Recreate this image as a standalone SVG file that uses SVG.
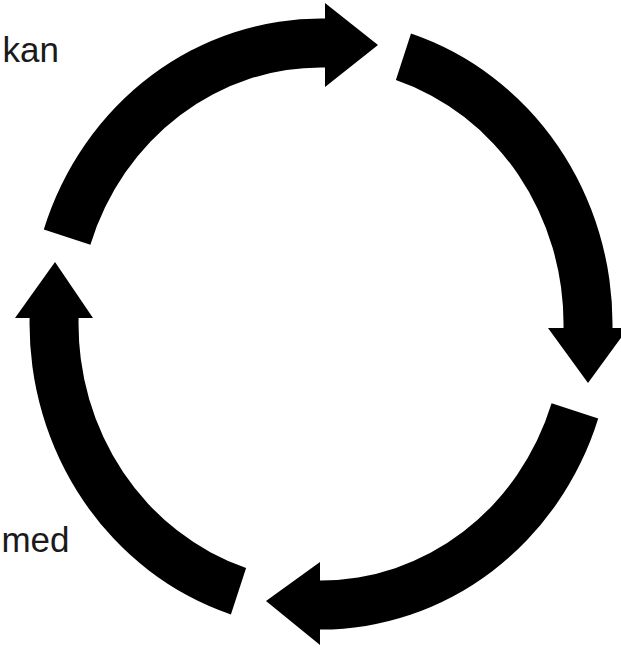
<svg xmlns="http://www.w3.org/2000/svg" width="621" height="648" viewBox="0 0 621 648">
  <style>
    .arrow { fill: #000000; stroke: none; }
    .label { font-family: "Liberation Sans", Arial, sans-serif; font-size: 35px; fill: #1a1a1a; text-anchor: end; }
  </style>
  <rect width="621" height="648" fill="#ffffff"/>
  <g id="connectors">
    <g id="arrow-top">
      <path class="arrow" d="M43.8,229.6 A291.5,305.5 0 0 1 325,18.5 L325,3 L378,45 L325,87 L325,67.5 A242.5,256.5 0 0 0 90.4,244.7 Z"/>
    </g>
    <g id="arrow-right">
      <path class="arrow" d="M411,33.5 A291.5,305.5 0 0 1 612.5,328 L628,328 L588,383 L548,328 L563.5,328 A242.5,256.5 0 0 0 395.9,80 Z"/>
    </g>
    <g id="arrow-bottom">
      <path class="arrow" d="M598.2,418.4 A291.5,305.5 0 0 1 320,629.5 L320,645 L266,601 L320,562 L320,580.5 A242.5,256.5 0 0 0 551.6,403.3 Z"/>
    </g>
    <g id="arrow-left">
      <path class="arrow" d="M230.9,614.5 A291.5,305.5 0 0 1 29.6,318 L15,318 L55,262 L93,318 L78.6,318 A242.5,256.5 0 0 0 246.1,567.9 Z"/>
    </g>
  </g>
  <g id="label-kan">
    <text class="label" x="59" y="61.5">kan</text>
  </g>
  <g id="label-med">
    <text class="label" x="69.5" y="551.5">med</text>
  </g>
</svg>
